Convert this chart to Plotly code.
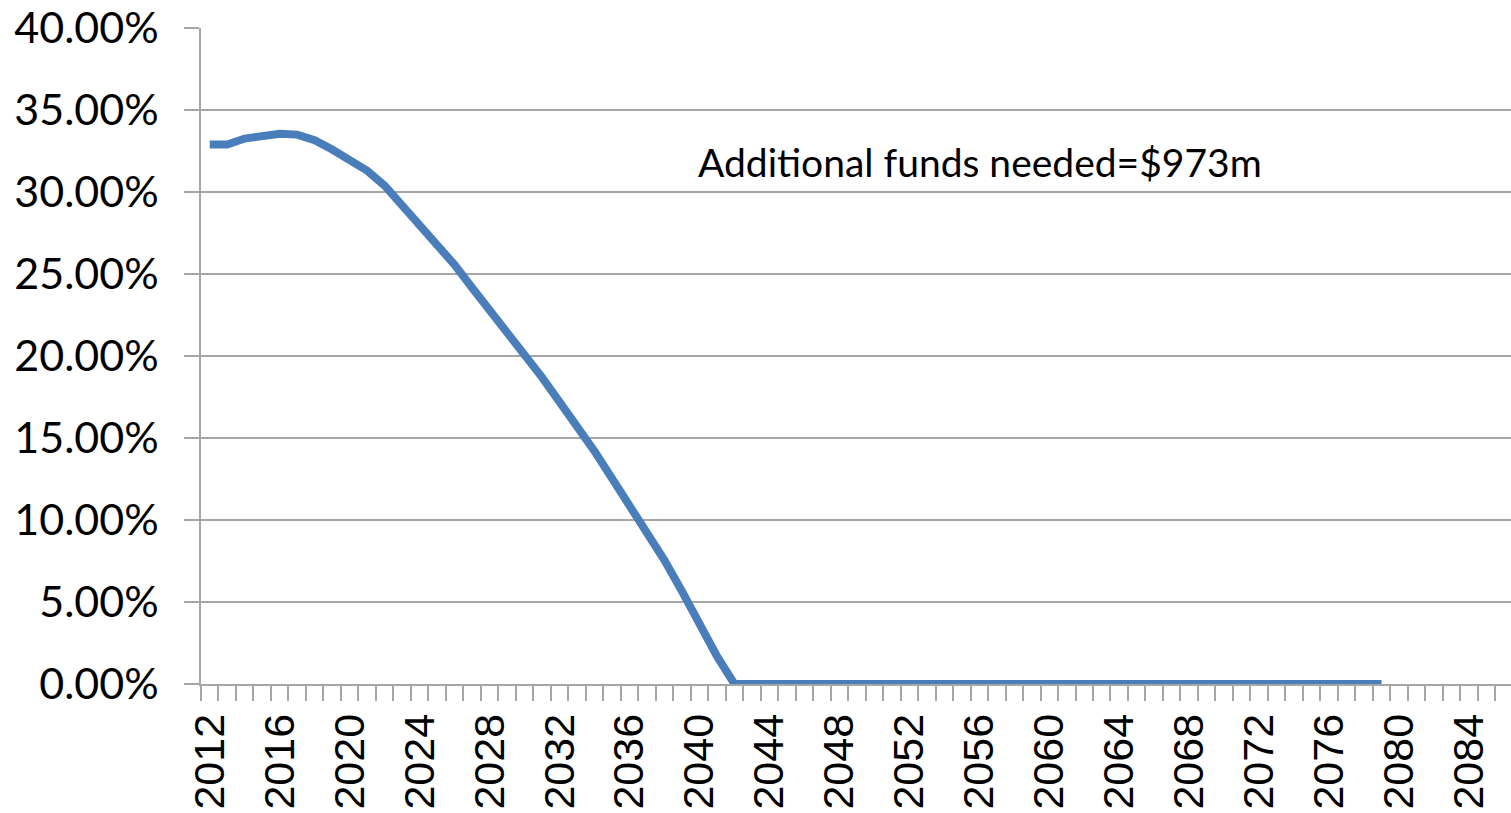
import plotly.graph_objects as go

years = list(range(2012, 2080))
values = [
    32.9, 32.9, 33.26, 33.44, 33.55, 33.5, 33.16, 32.59, 31.98, 31.3,
    30.39, 29.2, 28.03, 26.85, 25.56, 24.16, 22.8, 21.48, 20.04, 18.7,
    17.2, 15.8, 14.2, 12.54, 10.93, 9.22, 7.54, 5.66, 3.7, 1.7,
] + [0.0] * (2079 - 2042 + 1)

x_label_vals = list(range(2012, 2087, 4))
y_tick_vals = [0, 5, 10, 15, 20, 25, 30, 35, 40]
annotation_text = "Additional funds needed=$973m"

grid_color = "#a6a6a6"
line_color = "#4a7ebb"

fig = go.Figure()
fig.add_trace(go.Scatter(
    x=years, y=values, mode="lines",
    line=dict(color=line_color, width=8),
    hoverinfo="skip", showlegend=False,
))

fig.add_annotation(
    x=2039.8, y=31.86, xref="x", yref="y", text=annotation_text,
    showarrow=False, xanchor="left", yanchor="middle",
    font=dict(family="Lato", size=39, color="black"),
)

fig.update_layout(
    width=1511, height=813,
    margin=dict(l=201, r=0, t=28, b=129),
    paper_bgcolor="white", plot_bgcolor="white",
    xaxis=dict(
        range=[2011.5, 2086.4], tickmode="array", tickvals=x_label_vals,
        ticktext=[str(v) for v in x_label_vals],
        tickangle=-90, ticks="", showgrid=False, zeroline=False,
        showline=True, linecolor=grid_color, linewidth=1.5,
        tickfont=dict(family="Liberation Sans", size=43, color="black"),
        ticklabelstandoff=11,
        minor=dict(tick0=2011.5, dtick=1, ticks="outside", ticklen=15,
                   tickcolor=grid_color, tickwidth=1.5, showgrid=False),
    ),
    yaxis=dict(
        range=[0, 40], tickmode="array", tickvals=y_tick_vals,
        ticktext=[f"{v:.2f}%" for v in y_tick_vals],
        ticks="outside", ticklen=15, tickcolor=grid_color, tickwidth=1.5,
        showgrid=True, gridcolor=grid_color, gridwidth=1.5, zeroline=False,
        showline=True, linecolor=grid_color, linewidth=1.5,
        tickfont=dict(family="Lato", size=43, color="black"),
        ticklabelstandoff=17,
    ),
)

fig.write_html("out.html")
